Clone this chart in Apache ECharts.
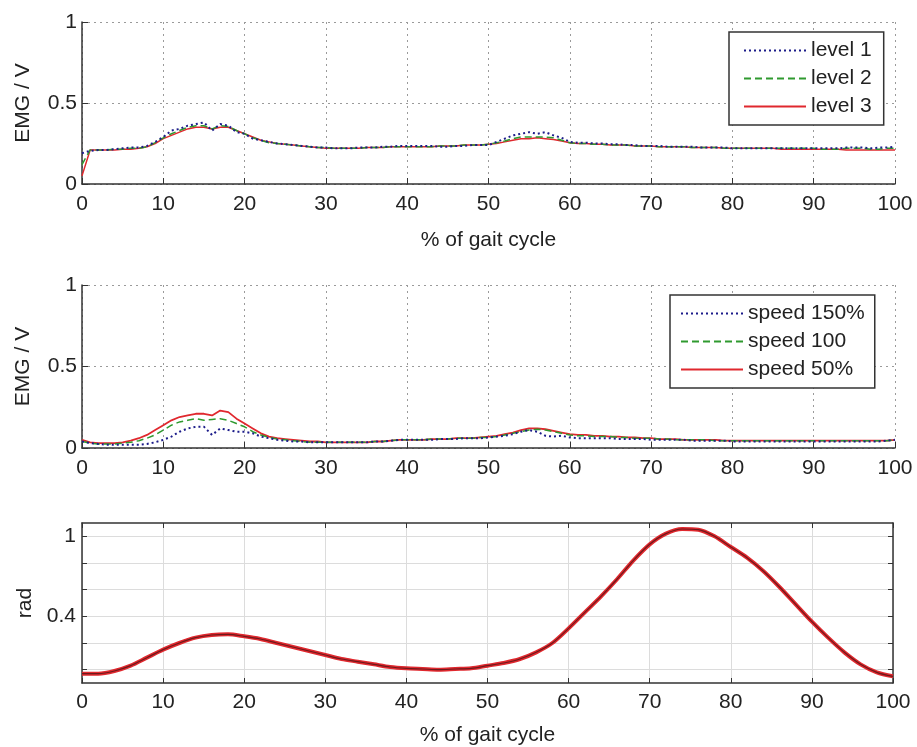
<!DOCTYPE html>
<html><head><meta charset="utf-8">
<script src="https://cdn.jsdelivr.net/npm/echarts@6/dist/echarts.min.js"></script>
<style>html,body{margin:0;padding:0;background:#fff}#c{width:917px;height:747px}</style>
</head><body><div id="c"></div>
<script>
// ---- data ----
const xTicks = [0,10,20,30,40,50,60,70,80,90,100];
const gaitPct = Array.from({length:101},(_,i)=>i);          // 0..100 %
const gaitPctCoarse = Array.from({length:51},(_,i)=>i*2);   // 0..100 % step 2

const level1 = [0.19,0.205,0.21,0.21,0.215,0.22,0.225,0.225,0.235,0.26,0.29,0.33,0.34,0.36,0.37,0.38,0.33,0.37,0.36,0.32,0.31,0.28,0.27,0.26,0.25,0.245,0.24,0.235,0.23,0.225,0.225,
0.22,0.22,0.22,0.225,0.225,0.225,0.23,0.23,0.235,0.235,
0.235,0.235,0.235,0.23,0.23,0.235,0.235,0.24,0.24,0.24,
0.26,0.28,0.30,0.31,0.32,0.31,0.32,0.30,0.285,0.26,
0.255,0.255,0.25,0.25,0.245,0.245,0.24,0.24,0.235,0.235,
0.235,0.23,0.23,0.23,0.23,0.225,0.225,0.225,0.225,0.22,
0.22,0.22,0.22,0.22,0.22,0.22,0.22,0.22,0.22,0.22,
0.22,0.22,0.22,0.225,0.225,0.225,0.22,0.225,0.225,0.23];
const level2 = [0.12,0.21,0.21,0.21,0.215,0.215,0.22,0.22,0.23,0.255,0.285,0.31,0.33,0.35,0.36,0.36,0.34,0.36,0.355,0.33,0.31,0.285,0.27,0.255,0.25,0.245,0.24,0.235,0.23,0.225,0.225,
0.22,0.22,0.22,0.22,0.225,0.225,0.225,0.23,0.23,0.23,
0.23,0.23,0.23,0.235,0.235,0.235,0.24,0.24,0.24,0.245,
0.255,0.265,0.28,0.29,0.29,0.29,0.29,0.285,0.27,0.255,
0.25,0.25,0.245,0.245,0.24,0.24,0.24,0.235,0.235,0.235,
0.23,0.23,0.23,0.23,0.225,0.225,0.225,0.225,0.22,0.22,
0.22,0.22,0.22,0.22,0.22,0.22,0.22,0.22,0.22,0.22,
0.215,0.215,0.215,0.22,0.22,0.22,0.215,0.215,0.22,0.22];
const level3 = [0.05,0.21,0.21,0.21,0.21,0.215,0.215,0.22,0.23,0.25,0.28,0.30,0.32,0.34,0.35,0.35,0.34,0.35,0.35,0.33,0.31,0.29,0.27,0.26,0.25,0.245,0.24,0.235,0.23,0.225,0.22,
0.22,0.22,0.22,0.22,0.225,0.225,0.225,0.23,0.23,0.23,
0.23,0.23,0.23,0.235,0.235,0.235,0.24,0.24,0.24,0.245,
0.25,0.26,0.27,0.28,0.28,0.285,0.28,0.275,0.265,0.255,
0.25,0.25,0.245,0.245,0.24,0.24,0.24,0.235,0.235,0.235,
0.23,0.23,0.23,0.23,0.225,0.225,0.225,0.225,0.22,0.22,
0.22,0.22,0.22,0.22,0.22,0.215,0.215,0.215,0.215,0.215,
0.215,0.215,0.215,0.21,0.21,0.21,0.21,0.21,0.21,0.21];

const speed150 = [0.04,0.03,0.025,0.02,0.02,0.02,0.02,0.02,0.025,0.035,0.05,0.07,0.10,0.12,0.13,0.13,0.08,0.12,0.11,0.10,0.10,0.09,0.07,0.06,0.05,0.045,0.04,0.04,0.035,0.035,0.035,
0.035,0.035,0.035,0.035,0.035,0.04,0.04,0.045,0.05,0.05,
0.05,0.05,0.05,0.055,0.055,0.055,0.06,0.06,0.06,0.065,
0.07,0.075,0.085,0.10,0.11,0.10,0.075,0.07,0.075,0.065,
0.06,0.06,0.06,0.06,0.06,0.055,0.055,0.055,0.055,0.05,
0.05,0.05,0.05,0.05,0.045,0.045,0.045,0.045,0.045,0.04,
0.04,0.04,0.04,0.04,0.04,0.04,0.04,0.04,0.04,0.04,
0.04,0.04,0.04,0.04,0.04,0.04,0.04,0.04,0.045,0.05];
const speed100 = [0.04,0.03,0.025,0.025,0.025,0.03,0.035,0.045,0.06,0.08,0.11,0.14,0.16,0.17,0.18,0.17,0.175,0.18,0.17,0.15,0.13,0.10,0.08,0.065,0.055,0.05,0.045,0.04,0.035,0.035,0.035,
0.035,0.035,0.035,0.035,0.035,0.04,0.04,0.045,0.05,0.05,
0.05,0.05,0.055,0.055,0.055,0.06,0.06,0.06,0.065,0.065,
0.07,0.08,0.09,0.10,0.11,0.115,0.11,0.10,0.09,0.08,
0.075,0.075,0.07,0.07,0.07,0.065,0.065,0.06,0.06,0.06,
0.055,0.055,0.05,0.05,0.05,0.05,0.05,0.045,0.045,0.045,
0.045,0.045,0.045,0.045,0.045,0.045,0.045,0.045,0.045,0.045,
0.045,0.045,0.045,0.045,0.045,0.045,0.045,0.045,0.045,0.05];
const speed50 = [0.05,0.035,0.03,0.03,0.03,0.035,0.045,0.06,0.08,0.11,0.14,0.17,0.19,0.20,0.21,0.21,0.20,0.23,0.22,0.18,0.15,0.12,0.09,0.07,0.06,0.055,0.05,0.045,0.04,0.04,0.035,
0.035,0.035,0.035,0.035,0.035,0.04,0.04,0.045,0.05,0.05,
0.05,0.05,0.055,0.055,0.055,0.06,0.06,0.06,0.065,0.07,
0.075,0.085,0.095,0.11,0.12,0.12,0.115,0.105,0.095,0.085,
0.08,0.08,0.075,0.075,0.07,0.07,0.065,0.065,0.06,0.06,
0.055,0.055,0.055,0.05,0.05,0.05,0.05,0.05,0.045,0.045,
0.045,0.045,0.045,0.045,0.045,0.045,0.045,0.045,0.045,0.045,
0.045,0.045,0.045,0.045,0.045,0.045,0.045,0.045,0.045,0.05];

const angleRad = [-0.03,-0.03,-0.01,0.03,0.09,0.15,0.20,0.24,0.26,0.265,0.25,0.23,0.20,0.17,0.14,0.11,0.08,0.06,0.04,0.02,0.01,0.005,0.0,0.005,0.01,0.03,0.05,0.08,0.13,0.20,0.31,0.43,0.55,0.68,0.82,0.94,1.02,1.055,1.05,1.0,0.92,0.84,0.74,0.62,0.49,0.36,0.24,0.13,0.04,-0.02,-0.05];
const yTicksRad = [0,0.2,0.4,0.6,0.8,1.0];
const yLabelsRad = [0.4,1];

// ---- chart ----
const FONT = 'Liberation Sans';
const pairs = (xs, ys) => ys.map((v,i)=>[xs[i], v]);
const NAVY = '#1c1c8a', GREEN = '#2f9a2f', RED = '#e0282e';
const axisLine = {show:true, onZero:false, lineStyle:{color:'#333', width:1.5}};
const dotted = {show:true, lineStyle:{color:'#9a9a9a', type:[2,4], width:1}};
const lbl = {color:'#222', fontSize:21, fontFamily:FONT};

const grids = [
  {left:82, right:22, top:22, height:162},
  {left:82, right:22, top:285, height:163},
  {left:82, right:24, top:523, height:161}
];

const tick = (len) => ({inside:true, length:len, lineStyle:{color:'#333'}});

const xAxes = [
  {gridIndex:0, type:'value', min:0, max:100, interval:10, axisLine, axisTick:tick(6),
   axisLabel:{...lbl, margin:10}, splitLine:dotted,
   name:'% of gait cycle', nameLocation:'middle', nameGap:46, nameTextStyle:{...lbl}},
  {gridIndex:1, type:'value', min:0, max:100, interval:10, axisLine, axisTick:tick(6),
   axisLabel:{...lbl, margin:10}, splitLine:dotted},
  {gridIndex:2, type:'value', min:0, max:100, interval:10, axisLine, axisTick:tick(5),
   axisLabel:{...lbl, margin:9}, splitLine:{show:true,lineStyle:{color:'#dcdcdc',width:1}},
   name:'% of gait cycle', nameLocation:'middle', nameGap:42, nameTextStyle:{...lbl}},
  {gridIndex:2, type:'value', position:'top', min:0, max:100, interval:10, axisLine, axisTick:tick(5),
   axisLabel:{show:false}, splitLine:{show:false}}
];

const yAxes = [
  {gridIndex:0, type:'value', min:0, max:1, interval:0.5, axisLine, axisTick:tick(6),
   axisLabel:{...lbl, margin:5}, splitLine:dotted,
   name:'EMG / V', nameLocation:'middle', nameGap:48, nameRotate:90, nameTextStyle:{...lbl}},
  {gridIndex:1, type:'value', min:0, max:1, interval:0.5, axisLine, axisTick:tick(6),
   axisLabel:{...lbl, margin:5}, splitLine:dotted,
   name:'EMG / V', nameLocation:'middle', nameGap:48, nameRotate:90, nameTextStyle:{...lbl}},
  {gridIndex:2, type:'value', min:-0.1, max:1.1, axisLine,
   axisTick:{...tick(5), customValues:yTicksRad},
   axisLabel:{...lbl, margin:6, customValues:yLabelsRad},
   splitLine:{show:true,lineStyle:{color:'#dcdcdc',width:1}},
   name:'rad', nameLocation:'middle', nameGap:44, nameRotate:90, nameTextStyle:{...lbl}},
  {gridIndex:2, type:'value', position:'right', min:-0.1, max:1.1, axisLine,
   axisTick:{...tick(5), customValues:yTicksRad},
   axisLabel:{show:false}, splitLine:{show:false}}
];

const mk = (name, xi, yi, data, color, type, width) => ({
  name, type:'line', xAxisIndex:xi, yAxisIndex:yi, data, showSymbol:false, symbol:'none',
  lineStyle:{color, type, width}, itemStyle:{color}, animation:false, silent:true
});

const series = [
  mk('level 3',0,0,pairs(gaitPct,level3),RED,'solid',1.5),
  mk('level 2',0,0,pairs(gaitPct,level2),GREEN,[7,4],1.5),
  mk('level 1',0,0,pairs(gaitPct,level1),NAVY,[2,3],2),
  mk('speed 50%',1,1,pairs(gaitPct,speed50),RED,'solid',1.8),
  mk('speed 100',1,1,pairs(gaitPct,speed100),GREEN,[7,4],1.5),
  mk('speed 150%',1,1,pairs(gaitPct,speed150),NAVY,[2,3],2),
  Object.assign(mk('angle',2,2,pairs(gaitPctCoarse,angleRad),RED,'solid',4),{smooth:0.3}),
  Object.assign(mk('angle core',2,2,pairs(gaitPctCoarse,angleRad),'#6e1a1c','solid',1.2),{smooth:0.3})
];

const legBase = {orient:'vertical', backgroundColor:'#fff', borderColor:'#333', borderWidth:1.5,
  itemWidth:62, itemHeight:14, itemGap:7, textStyle:{...lbl}, selectedMode:false,
  itemStyle:{color:'rgba(0,0,0,0)', borderColor:'rgba(0,0,0,0)', borderWidth:0}};

const chart = echarts.init(document.getElementById('c'), null, {renderer:'canvas'});
chart.setOption({
  backgroundColor:'#fff',
  animation:false,
  grid:grids, xAxis:xAxes, yAxis:yAxes, series,
  legend:[
    {...legBase, data:['level 1','level 2','level 3'], left:729, top:32, padding:[8,12,8,14]},
    {...legBase, data:['speed 150%','speed 100','speed 50%'], left:670, top:295, padding:[8,10,8,10]}
  ]
});
</script></body></html>
